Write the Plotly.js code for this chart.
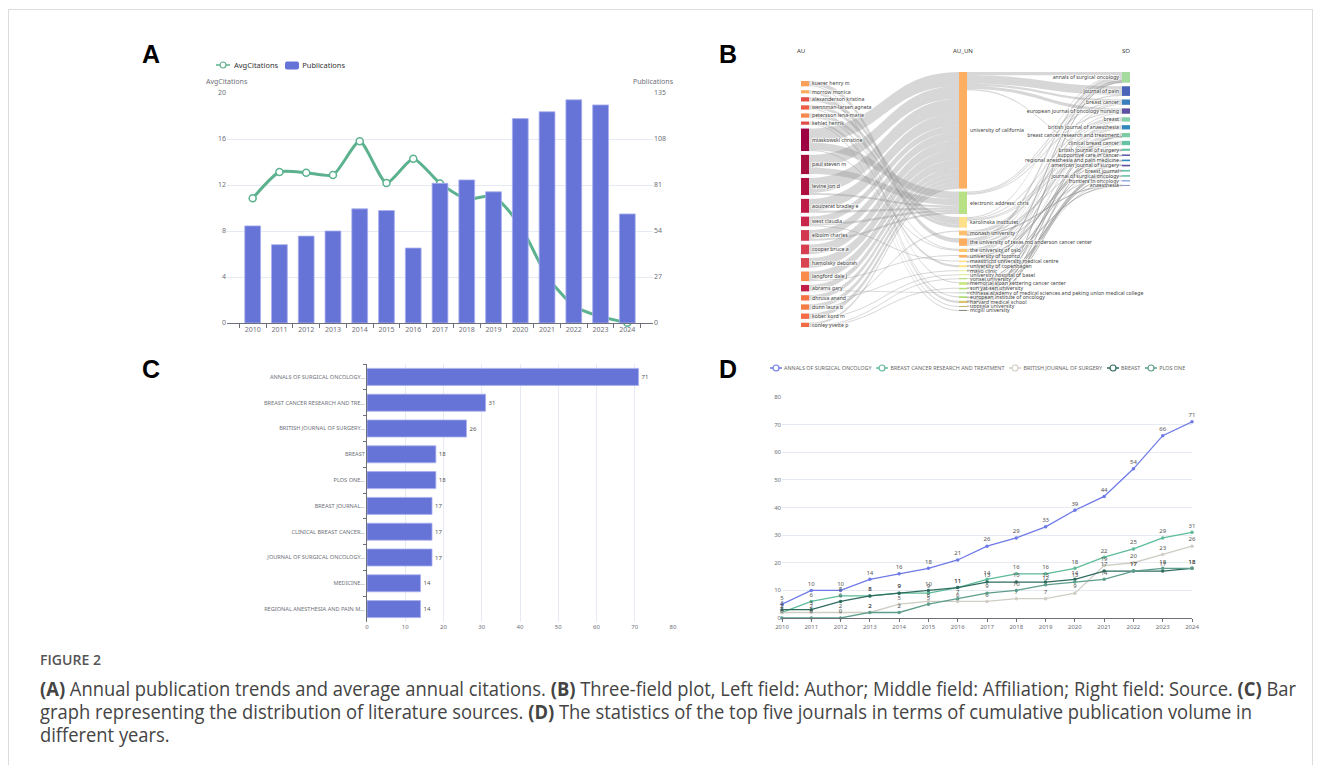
<!DOCTYPE html>
<html><head><meta charset="utf-8">
<script src="https://cdn.plot.ly/plotly-3.0.1.min.js"></script>
<style>
body{margin:0;width:1320px;height:765px;background:#fff;position:relative;overflow:hidden;font-family:"Noto Sans",sans-serif;}
.abs{position:absolute;}
.letter{position:absolute;font-family:"Liberation Sans",Arial,sans-serif;font-weight:bold;font-size:25px;color:#000;line-height:1;}
.leg{position:absolute;display:flex;align-items:center;white-space:nowrap;font-family:"Noto Sans",sans-serif;}
.leg .it{display:flex;align-items:center;}
.hdr{position:absolute;font-family:"Noto Sans",sans-serif;font-size:6px;color:#333;line-height:1;}
</style></head><body>
<div class="abs" style="left:8px;top:9px;width:1303px;height:800px;border:1px solid #dcdcdc;"></div>

<div class="letter" style="left:142px;top:42px">A</div>
<div class="letter" style="left:719px;top:42px">B</div>
<div class="letter" style="left:142px;top:357px">C</div>
<div class="letter" style="left:719px;top:357px">D</div>

<div id="pA" class="abs" style="left:140px;top:40px;width:560px;height:310px"></div>
<div id="legA" class="leg" style="left:216px;top:60px;height:10px;font-size:7.5px;color:#333"></div>

<div id="pB" class="abs" style="left:795px;top:60px;width:360px;height:280px"></div>
<div class="hdr" style="left:797px;top:48px">AU</div>
<div class="hdr" style="left:953px;top:48px">AU_UN</div>
<div class="hdr" style="left:1122px;top:48px">SO</div>

<div id="pC" class="abs" style="left:140px;top:355px;width:550px;height:285px"></div>

<div id="pD" class="abs" style="left:720px;top:355px;width:490px;height:285px"></div>
<div id="legD" class="leg" style="left:770px;top:363px;height:10px;font-size:5.4px;color:#666"></div>

<div id="fig" class="abs" style="left:40px;top:651px;font-family:'Open Sans',sans-serif;font-size:14px;line-height:18px;color:#555;font-weight:600;white-space:nowrap;transform-origin:0 0;">FIGURE 2</div>
<div id="cap" class="abs" style="left:40px;top:677px;font-family:'Open Sans',sans-serif;font-size:19.5px;line-height:23px;color:#444;white-space:nowrap;transform-origin:0 0;"><span id="l1"><b>(A)</b> Annual publication trends and average annual citations. <b>(B)</b> Three-field plot, Left field: Author; Middle field: Affiliation; Right field: Source. <b>(C)</b> Bar</span><br>graph representing the distribution of literature sources. <b>(D)</b> The statistics of the top five journals in terms of cumulative publication volume in<br>different years.</div>

<script>
// ---------------- DATA ----------------
// Panel A
const yearsA = ['2010','2011','2012','2013','2014','2015','2016','2017','2018','2019','2020','2021','2022','2023','2024'];
const publications = [57,46,51,54,67,66,44,82,84,77,120,124,131,128,64];
const avgCitations = [10.84,13.13,13.07,12.87,15.8,12.17,14.29,12.14,10.78,11.04,8.46,4.06,1.48,0.55,0.03];

// Panel C
const sourceLabels = ['ANNALS OF SURGICAL ONCOLOGY...','BREAST CANCER RESEARCH AND TRE...','BRITISH JOURNAL OF SURGERY...','BREAST','PLOS ONE...','BREAST JOURNAL...','CLINICAL BREAST CANCER...','JOURNAL OF SURGICAL ONCOLOGY...','MEDICINE...','REGIONAL ANESTHESIA AND PAIN M...'];
const sourceCounts = [71,31,26,18,18,17,17,17,14,14];

// Panel D
const yearsD = [2010,2011,2012,2013,2014,2015,2016,2017,2018,2019,2020,2021,2022,2023,2024];
const journalNames = ['ANNALS OF SURGICAL ONCOLOGY','BREAST CANCER RESEARCH AND TREATMENT','BRITISH JOURNAL OF SURGERY','BREAST','PLOS ONE'];
const annalsCum = [5,10,10,14,16,18,21,26,29,33,39,44,54,66,71];
const bcrtCum   = [2,6,8,8,9,9,11,14,16,16,18,22,25,29,31];
const bjsCum    = [2,2,2,2,5,6,6,6,7,7,9,19,20,23,26];
const breastCum = [3,3,6,8,9,10,11,13,13,13,14,17,17,17,18];
const plosCum   = [0,0,0,2,2,5,7,9,10,12,13,14,17,18,18];

// Panel B (three-field plot)
const auNames = ['kuerer henry m','morrow monica','alexanderson kristina','wennman-larsen agneta','petersson lena-marie','kehlet henrik','miaskowski christine','paul steven m','levine jon d','aouizerat bradley e','west claudia','elboim charles','cooper bruce a','hamolsky deborah','langford dale j','abrams gary','dhruva anand','dunn laura b','kober kord m','conley yvette p'];
const unNames = ['university of california','electronic address: chris','karolinska institutet','monash university','the university of texas md anderson cancer center','the university of oslo','university of toronto','maastricht university medical centre','university of copenhagen','mayo clinic','university hospital of basel','yonsei university','memorial sloan kettering cancer center','sun yat-sen university','chinese academy of medical sciences and peking union medical college','european institute of oncology','harvard medical school','uppsala university','mcgill university'];
const soNames = ['annals of surgical oncology','journal of pain','breast cancer','european journal of oncology nursing','breast','british journal of anaesthesia','breast cancer research and treatment','clinical breast cancer','british journal of surgery','supportive care in cancer','regional anesthesia and pain medicine','american journal of surgery','breast journal','journal of surgical oncology','frontiers in oncology','anaesthesia'];
// [author, affiliation, value]
const auUnLinks = [[0,4,4],[0,16,1],[1,12,1],[1,16,1],[1,15,1],[2,2,4],[3,2,3],[3,17,1],[4,2,3],[4,5,1],[5,8,2],[5,18,1],
  [6,0,13],[6,1,7],[6,5,1],[7,0,12],[7,1,6],[8,0,14],[8,1,2],[9,0,11],[9,1,2],[10,0,6],[10,1,2],[10,7,1],[11,0,8],[11,1,2],
  [12,0,9],[13,0,9],[14,0,8],[14,6,1],[15,0,5],[15,14,1],[16,0,4],[16,9,1],[17,0,4],[17,3,1],[18,0,4],[18,10,1],[19,0,2],[19,11,1],[19,13,1]];
// [affiliation, source, value]
const unSoLinks = [[0,0,3],[0,1,8],[0,2,2],[0,3,3],[0,9,1],[1,1,1],[1,2,1],[1,3,1],[2,0,1],[2,4,1],[2,7,1],[2,8,1],
  [3,4,1],[3,5,2],[3,10,1],[3,15,0.5],[4,0,3],[4,2,1],[4,7,2],[4,13,1],[5,4,1],[5,6,1],[5,3,1],[6,5,1],[6,10,0.5],[6,0,1],
  [7,6,1],[7,9,0.5],[8,5,1],[8,15,0.5],[9,0,0.5],[9,11,0.5],[10,6,1],[11,2,1],[12,0,1],[12,8,0.5],[12,11,1],[13,13,0.5],[13,14,1],
  [14,6,0.5],[14,12,0.5],[15,4,1],[15,12,0.5],[16,0,0.5],[16,6,0.5],[16,12,0.5],[17,8,0.5],[18,7,1]];

// ---------------- STYLE ----------------
const FONT = 'Noto Sans, sans-serif';
const AXC = '#6E7079';
const GRID = '#E6EAF3';
const BAR = '#6674d7';
const LINEA = '#5cb28f';
const dColors = ['#6e7ae6','#5dbb98','#cfcdc4','#2f6b5f','#5e9d8c'];
const auColors = ['#f8a05a','#fbac5f','#e35147','#ee5e44','#f68a4f','#e24d48','#9e0142','#a50f3f','#ad0f40','#bd1a45','#c8264a','#d23850','#d63f4f','#d8444f','#fa8c4c','#c21f48','#f57445','#f57d48','#f46d43','#f26c43'];
const unColors = ['#fdae61','#b8e186','#fee08b','#fdbf6f','#fdae61','#fdc56c','#fdaf5f','#fee08b','#fee58e','#e6f598','#d9ef8b','#a6d96a','#c7e87e','#b5df74','#abdda4','#a6d96a','#d9c36a','#c8b560','#8a8a7a'];
const soColors = ['#a6dba0','#4963b8','#3a7ec0','#5e4fa2','#84cfa8','#3288bd','#7fcba4','#66c2a5','#66c2a5','#5e5fb0','#3288bd','#5e4fa2','#66c2a5','#66c2a5','#6b8bd0','#8c9bc4'];
const cfg = {staticPlot:true, displayModeBar:false};

// ---------------- PANEL A ----------------
Plotly.newPlot('pA', [
  {type:'bar', x:yearsA, y:publications, yaxis:'y2', name:'Publications',
   marker:{color:BAR, line:{color:'#a9b0ee', width:0.8}}, hoverinfo:'none'},
  {type:'scatter', mode:'lines+markers', x:yearsA, y:avgCitations, name:'AvgCitations',
   line:{color:LINEA, width:3, shape:'spline', smoothing:0.6},
   marker:{color:'#fff', size:7, line:{color:LINEA, width:1.5}}, cliponaxis:false, hoverinfo:'none'}
], {
  width:560, height:310, margin:{l:87, r:47, t:53, b:27}, showlegend:false, bargap:0.41,
  paper_bgcolor:'rgba(0,0,0,0)', plot_bgcolor:'rgba(0,0,0,0)',
  font:{family:FONT, size:7, color:AXC},
  xaxis:{type:'category', showline:true, linecolor:AXC, linewidth:1, ticks:'outside', tickson:'boundaries', ticklen:4, tickcolor:AXC, showgrid:false, tickfont:{size:7, color:AXC}},
  yaxis:{range:[0,20], dtick:4, gridcolor:GRID, zeroline:false, showline:false, tickfont:{size:7, color:AXC}},
  yaxis2:{overlaying:'y', side:'right', range:[0,135], dtick:27, showgrid:false, zeroline:false, showline:false, tickfont:{size:7, color:AXC}},
  annotations:[
    {text:'AvgCitations', xref:'paper', yref:'paper', x:0, y:1, yshift:5, showarrow:false, font:{size:7, color:AXC}, xanchor:'center', yanchor:'bottom'},
    {text:'Publications', xref:'paper', yref:'paper', x:1, y:1, yshift:5, showarrow:false, font:{size:7, color:AXC}, xanchor:'center', yanchor:'bottom'}
  ]
}, cfg);

function lineIcon(color, w){
  return `<svg width="${w}" height="10" style="display:block"><line x1="0" y1="5" x2="${w}" y2="5" stroke="${color}" stroke-width="1.5"/><circle cx="${w/2}" cy="5" r="3" fill="#fff" stroke="${color}" stroke-width="1.2"/></svg>`;
}
(function(){
  const lg = document.getElementById('legA');
  lg.innerHTML = `<div class="it">${lineIcon(LINEA,14)}<span style="margin-left:4px">AvgCitations</span></div>`+
    `<div class="it" style="margin-left:7px"><svg width="14" height="9" style="display:block"><rect x="0" y="0.5" width="14" height="8" rx="2" fill="${BAR}"/></svg><span style="margin-left:3px">Publications</span></div>`;
})();

// ---------------- PANEL B ----------------
(function(){
  const labels = auNames.concat(unNames, soNames);
  const colors = auColors.concat(unColors, soColors);
  const nA = auNames.length, nU = unNames.length, nS = soNames.length;
  const src=[], tgt=[], val=[];
  auUnLinks.forEach(l=>{src.push(l[0]); tgt.push(nA+l[1]); val.push(l[2]);});
  unSoLinks.forEach(l=>{src.push(nA+l[0]); tgt.push(nA+nU+l[1]); val.push(l[2]);});
  const N = labels.length, inS = new Array(N).fill(0), outS = new Array(N).fill(0);
  for(let i=0;i<src.length;i++){ outS[src[i]]+=val[i]; inS[tgt[i]]+=val[i]; }
  const nodeVal = inS.map((v,i)=>Math.max(v,outS[i]));
  const cols = [[...Array(nA).keys()], [...Array(nU).keys()].map(i=>i+nA), [...Array(nS).keys()].map(i=>i+nA+nU)];
  const sums = cols.map(c=>c.reduce((a,i)=>a+nodeVal[i],0));
  const divL=795, divT=60, W=360, H=280, kTarget=1.07;
  let pad = Math.min(...cols.map((c,ci)=>(H - kTarget*sums[ci])/(c.length-1)));
  const ky = Math.min(...cols.map((c,ci)=>(H-(c.length-1)*pad)/sums[ci]));
  const colX = [805, 963, 1126];
  const span = [[81,327],[72,311],[72,186]];
  const nx = new Array(N), ny = new Array(N);
  cols.forEach((c,ci)=>{
    const tot = sums[ci]*ky;
    const gap = (span[ci][1]-span[ci][0]-tot)/(c.length-1);
    let y = span[ci][0];
    c.forEach(i=>{
      const h = nodeVal[i]*ky;
      nx[i] = (colX[ci]-divL)/W;
      ny[i] = (y + h/2 - divT)/H;
      y += h + gap;
    });
  });
  Plotly.newPlot('pB', [{
    type:'sankey', arrangement:'fixed', orientation:'h', hoverinfo:'none',
    domain:{x:[0,1], y:[0,1]},
    textfont:{size:5.2, color:'#444', family:FONT},
    node:{label:labels, color:colors, x:nx, y:ny, pad:pad, thickness:8, line:{width:0}, hoverinfo:'none'},
    link:{source:src, target:tgt, value:val, color:'rgba(150,150,150,0.38)', hoverinfo:'none'}
  }], {width:W, height:H, margin:{l:0,r:0,t:0,b:0}, paper_bgcolor:'rgba(0,0,0,0)', font:{family:FONT}}, cfg);
})();

// ---------------- PANEL C ----------------
Plotly.newPlot('pC', [{
  type:'bar', orientation:'h', y:sourceLabels, x:sourceCounts, text:sourceCounts.map(String),
  textposition:'outside', textfont:{size:6, color:'#555'}, cliponaxis:false,
  marker:{color:BAR, line:{color:'#a9b0ee', width:0.8}}, hoverinfo:'none'
}], {
  width:550, height:285, margin:{l:227, r:17, t:9, b:18}, bargap:0.34, showlegend:false,
  paper_bgcolor:'rgba(0,0,0,0)', plot_bgcolor:'rgba(0,0,0,0)', font:{family:FONT, size:6, color:AXC},
  xaxis:{range:[0,80], dtick:10, gridcolor:GRID, zeroline:false, showline:false, tickfont:{size:6, color:AXC}},
  yaxis:{type:'category', autorange:'reversed', showline:true, linecolor:AXC, ticks:'outside', tickson:'boundaries', ticklen:3, tickcolor:AXC, showgrid:false, tickfont:{size:5.6, color:AXC}}
}, cfg);

// ---------------- PANEL D ----------------
(function(){
  const series = [annalsCum, bcrtCum, bjsCum, breastCum, plosCum];
  const traces = series.map((s,i)=>({
    type:'scatter', mode:'lines+markers+text', x:yearsD, y:s, name:journalNames[i],
    text:s.map(String), textposition:'top center', textfont:{size:6, color:'#555'},
    line:{color:dColors[i], width:1.3}, marker:{color:dColors[i], size:3.5}, cliponaxis:false, hoverinfo:'none'
  }));
  Plotly.newPlot('pD', traces, {
    width:490, height:285, margin:{l:62, r:18, t:42, b:22}, showlegend:false,
    paper_bgcolor:'rgba(0,0,0,0)', plot_bgcolor:'rgba(0,0,0,0)', font:{family:FONT, size:6, color:AXC},
    xaxis:{range:[2010,2024], dtick:1, showline:true, linecolor:AXC, ticks:'outside', ticklen:3, tickcolor:AXC, showgrid:false, zeroline:false, tickfont:{size:6, color:AXC}},
    yaxis:{range:[0,80], dtick:10, gridcolor:GRID, zeroline:false, showline:false, tickfont:{size:6, color:AXC}}
  }, cfg);
  const lg = document.getElementById('legD');
  lg.innerHTML = journalNames.map((n,i)=>`<div class="it" style="margin-left:${i?5:0}px">${lineIcon(dColors[i],12)}<span style="margin-left:2px">${n}</span></div>`).join('');
})();

// ---------------- CAPTION FIT ----------------
(function(){
  const cap = document.getElementById('cap');
  const w = document.getElementById('l1').getBoundingClientRect().width;
  cap.style.transform = 'scaleX(' + (1256/w) + ')';
  const fig = document.getElementById('fig');
  const fw = fig.getBoundingClientRect().width;
  fig.style.transform = 'scaleX(' + (61/fw) + ')';
})();
</script>
</body></html>
